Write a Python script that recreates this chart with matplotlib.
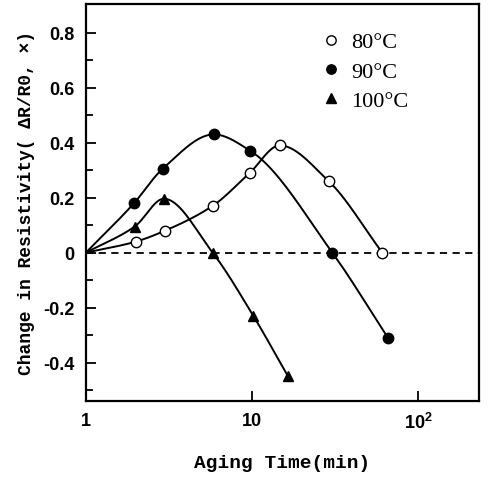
import numpy as np
import matplotlib
matplotlib.use("Agg")
import matplotlib.pyplot as plt
from matplotlib.ticker import FixedLocator, NullLocator

# Data
t80 = [1, 2, 3, 5.8, 9.7, 14.7, 29, 61]
r80 = [0, 0.04, 0.08, 0.17, 0.29, 0.39, 0.26, 0.0]
t90 = [1, 1.95, 2.9, 5.9, 9.8, 30.5, 66]
r90 = [0, 0.18, 0.305, 0.43, 0.37, 0.0, -0.31]
t100 = [1, 1.97, 2.95, 5.8, 10.2, 16.5]
r100 = [0, 0.095, 0.196, 0.0, -0.23, -0.45]
labels = ["80°C", "90°C", "100°C"]
xticks = [1, 10, 100]
xticklabels = ["1", "10", "$\\mathregular{10^2}$"]
yticks = [-0.4, -0.2, 0, 0.2, 0.4, 0.6, 0.8]
yticklabels = ["-0.4", "-0.2", "0", "0.2", "0.4", "0.6", "0.8"]


def smooth(x, y, n=40):
    # monotone cubic (Fritsch-Carlson) interpolation in log10(x) space
    lx = np.log10(np.asarray(x, float))
    y = np.asarray(y, float)
    h = np.diff(lx)
    d = np.diff(y) / h
    m = np.zeros_like(y)
    m[0], m[-1] = d[0], d[-1]
    for i in range(1, len(y) - 1):
        if d[i - 1] * d[i] <= 0:
            m[i] = 0.0
        else:
            w1 = 2 * h[i] + h[i - 1]
            w2 = h[i] + 2 * h[i - 1]
            m[i] = (w1 + w2) / (w1 / d[i - 1] + w2 / d[i])
    xs, ys = [], []
    for i in range(len(y) - 1):
        s = np.linspace(0, 1, n)
        h00 = 2 * s ** 3 - 3 * s ** 2 + 1
        h10 = s ** 3 - 2 * s ** 2 + s
        h01 = -2 * s ** 3 + 3 * s ** 2
        h11 = s ** 3 - s ** 2
        xs.append(lx[i] + s * h[i])
        ys.append(h00 * y[i] + h10 * h[i] * m[i] + h01 * y[i + 1] + h11 * h[i] * m[i + 1])
    return 10 ** np.concatenate(xs), np.concatenate(ys)


fig = plt.figure(figsize=(4.88, 4.85), dpi=100)
ax = fig.add_axes([0.176, 0.171, 0.806, 0.819])
ax.set_xscale("log")
ax.set_xlim(1, 234)
ax.set_ylim(-0.54, 0.905)

ax.axhline(0, color="black", lw=1.3, ls=(0, (4, 3)), zorder=1)

for t, r in [(t80, r80), (t90, r90), (t100, r100)]:
    sx, sy = smooth(t, r)
    ax.plot(sx, sy, color="black", lw=1.4, zorder=2)
for t, r, m, fc, lab in [(t80[1:], r80[1:], "o", "white", labels[0]),
                         (t90[1:], r90[1:], "o", "black", labels[1]),
                         (t100[1:], r100[1:], "^", "black", labels[2])]:
    ax.plot(t, r, ls="none", marker=m, ms=7.5, mfc=fc, mec="black", mew=1.0, zorder=3, label=lab)

ax.xaxis.set_major_locator(FixedLocator(xticks))
ax.set_xticklabels(xticklabels)
ax.xaxis.set_minor_locator(NullLocator())
ax.set_yticks(yticks)
ax.set_yticklabels(yticklabels)
ax.yaxis.set_minor_locator(FixedLocator([-0.5, -0.3, -0.1, 0.1, 0.3, 0.5, 0.7]))
ax.tick_params(axis="both", which="major", direction="in", length=7, width=1.3, labelsize=13,
               pad=8)
ax.tick_params(axis="y", which="minor", direction="in", length=5, width=1.3)
for lab in ax.get_xticklabels() + ax.get_yticklabels():
    lab.set_fontfamily("Liberation Sans")
    lab.set_fontweight("bold")
for s in ax.spines.values():
    s.set_linewidth(1.6)

ax.set_xlabel("Aging Time(min)", family="Liberation Mono", fontweight="bold", fontsize=14, labelpad=16)
ax.set_ylabel("Change in Resistivity( ΔR/R0, ×)", family="Liberation Mono", fontweight="bold",
              fontsize=13, labelpad=6)

leg = ax.legend(loc="upper right", bbox_to_anchor=(0.87, 0.98), frameon=False,
                prop={"family": "Liberation Serif", "size": 16}, handletextpad=0.3,
                labelspacing=0.4, handlelength=1.2, markerscale=0.9)

fig.savefig("out.png", dpi=100)
